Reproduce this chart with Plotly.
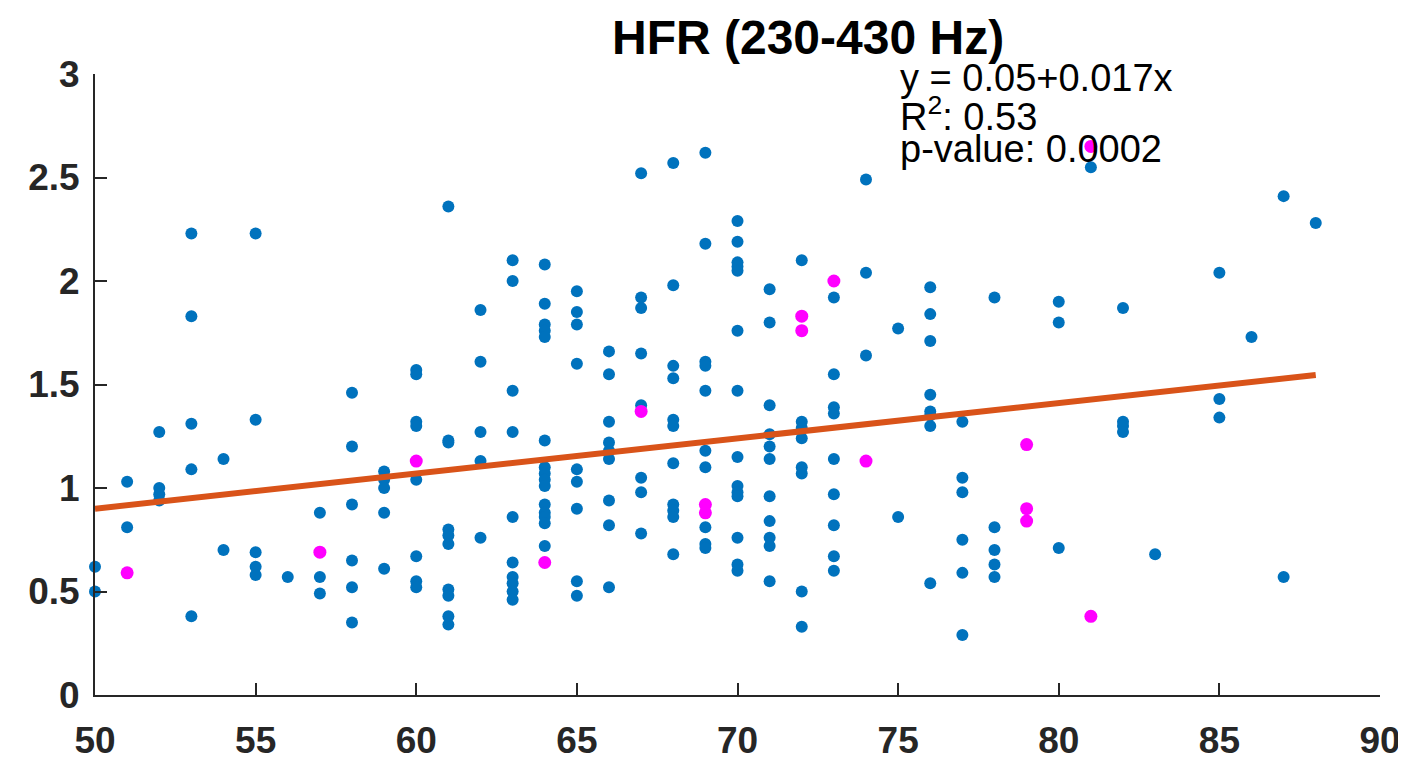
import plotly.graph_objects as go

# ---- data ----
blue_age = (
    [50, 50]
    + [51, 51]
    + [52, 52, 52, 52]
    + [53, 53, 53, 53, 53]
    + [54, 54]
    + [55, 55, 55, 55, 55]
    + [56]
    + [57, 57, 57]
    + [58, 58, 58, 58, 58, 58]
    + [59, 59, 59, 59, 59]
    + [60, 60, 60, 60, 60, 60, 60, 60]
    + [61, 61, 61, 61, 61, 61, 61, 61, 61, 61]
    + [62, 62, 62, 62, 62]
    + [63, 63, 63, 63, 63, 63, 63, 63, 63, 63]
    + [64] * 15
    + [65] * 9
    + [66] * 9
    + [67] * 8
    + [68] * 11
    + [69] * 10
    + [70] * 14
    + [71] * 11
    + [72] * 8
    + [73] * 9
    + [74] * 3
    + [75] * 2
    + [76] * 8
    + [77] * 6
    + [78] * 5
    + [80] * 3
    + [81]
    + [82] * 4
    + [83]
    + [85] * 3
    + [86]
    + [87] * 2
    + [88]
)
blue_hfr = (
    [0.62, 0.50]
    + [1.03, 0.81]
    + [1.27, 1.00, 0.97, 0.94]
    + [2.23, 1.83, 1.31, 1.09, 0.38]
    + [1.14, 0.70]
    + [2.23, 1.33, 0.69, 0.62, 0.58]
    + [0.57]
    + [0.88, 0.57, 0.49]
    + [1.46, 1.20, 0.92, 0.65, 0.52, 0.35]
    + [1.08, 1.04, 1.00, 0.88, 0.61]
    + [1.57, 1.55, 1.32, 1.30, 1.04, 0.67, 0.55, 0.52]
    + [2.36, 1.23, 1.22, 0.80, 0.77, 0.73, 0.51, 0.48, 0.38, 0.34]
    + [1.86, 1.61, 1.27, 1.13, 0.76]
    + [2.10, 2.00, 1.47, 1.27, 0.86, 0.64, 0.57, 0.54, 0.50, 0.46]
    + [2.08, 1.89, 1.79, 1.76, 1.73, 1.23, 1.10, 1.07, 1.04, 1.01, 0.92, 0.88, 0.86, 0.83, 0.72]
    + [1.95, 1.85, 1.79, 1.60, 1.09, 1.03, 0.90, 0.55, 0.48]
    + [1.66, 1.55, 1.32, 1.22, 1.18, 1.14, 0.94, 0.82, 0.52]
    + [2.52, 1.92, 1.87, 1.65, 1.40, 1.05, 0.98, 0.78]
    + [2.57, 1.98, 1.59, 1.53, 1.33, 1.30, 1.12, 0.92, 0.89, 0.86, 0.68]
    + [2.62, 2.18, 1.61, 1.59, 1.47, 1.18, 1.10, 0.81, 0.73, 0.71]
    + [2.29, 2.19, 2.09, 2.07, 2.05, 1.76, 1.47, 1.15, 1.01, 0.98, 0.96, 0.76, 0.63, 0.60]
    + [1.96, 1.80, 1.40, 1.26, 1.20, 1.14, 0.96, 0.84, 0.76, 0.72, 0.55]
    + [2.10, 1.32, 1.29, 1.24, 1.10, 1.07, 0.50, 0.33]
    + [1.92, 1.55, 1.39, 1.36, 1.14, 0.97, 0.82, 0.67, 0.60]
    + [2.49, 2.04, 1.64]
    + [1.77, 0.86]
    + [1.97, 1.84, 1.71, 1.45, 1.37, 1.35, 1.30, 0.54]
    + [1.32, 1.05, 0.98, 0.75, 0.59, 0.29]
    + [1.92, 0.81, 0.70, 0.63, 0.57]
    + [1.90, 1.80, 0.71]
    + [2.55]
    + [1.87, 1.32, 1.30, 1.27]
    + [0.68]
    + [2.04, 1.43, 1.34]
    + [1.73]
    + [2.41, 0.57]
    + [2.28]
)
mag_age = [51, 57, 60, 64, 67, 69, 69, 72, 72, 73, 74, 79, 79, 79, 81, 81]
mag_hfr = [0.59, 0.69, 1.13, 0.64, 1.37, 0.92, 0.88, 1.83, 1.76, 2.00, 1.13, 1.21, 0.90, 0.84, 2.65, 0.38]

fit_x = [50, 88]
fit_y = [0.90, 1.546]

x_ticks = [50, 55, 60, 65, 70, 75, 80, 85, 90]
y_ticks = [0, 0.5, 1, 1.5, 2, 2.5, 3]
y_tick_labels = ["0", "0.5", "1", "1.5", "2", "2.5", "3"]

title_text = "HFR (230-430 Hz)"
stat_lines = ["y = 0.05+0.017x", "R<sup>2</sup>: 0.53", "p-value: 0.0002"]

# ---- figure ----
BLUE = "#0072BD"
MAGENTA = "#FF00FF"
ORANGE = "#D95319"
AXC = "#262626"
FONT = "Liberation Sans, Arial, Helvetica, sans-serif"

fig = go.Figure()
fig.add_trace(go.Scatter(x=blue_age, y=blue_hfr, mode="markers",
                         marker=dict(color=BLUE, size=12, line=dict(width=0)),
                         cliponaxis=False, showlegend=False))
fig.add_trace(go.Scatter(x=mag_age, y=mag_hfr, mode="markers",
                         marker=dict(color=MAGENTA, size=13, line=dict(width=0)),
                         cliponaxis=False, showlegend=False))
fig.add_trace(go.Scatter(x=fit_x, y=fit_y, mode="lines",
                         line=dict(color=ORANGE, width=6),
                         showlegend=False))

axis_common = dict(
    showline=True, linecolor=AXC, linewidth=2,
    ticks="inside", ticklen=12, tickwidth=2, tickcolor=AXC,
    showgrid=False, zeroline=False, automargin=False,
    tickfont=dict(family=FONT, size=37, color=AXC, weight="bold"),
)
fig.update_xaxes(range=[50, 90], tickvals=x_ticks, ticktext=[str(v) for v in x_ticks],
                 ticklabelstandoff=12, **axis_common)
fig.update_yaxes(range=[0, 3], tickvals=y_ticks, ticktext=y_tick_labels,
                 ticklabelstandoff=6, **axis_common)

annotations = [
    dict(text=title_text, xref="paper", yref="paper", x=0.5549, y=1.058,
         xanchor="center", yanchor="middle", showarrow=False,
         font=dict(family=FONT, size=48, color="black", weight="bold")),
]
for txt, yy in zip(stat_lines, [0.994, 0.936, 0.879]):
    annotations.append(dict(text=txt, xref="paper", yref="paper", x=0.6250, y=yy,
                            xanchor="left", yanchor="middle", showarrow=False,
                            font=dict(family=FONT, size=38, color="black")))

# the page body adds an 8px offset, so the figure is sized/margined to compensate
fig.update_layout(
    width=1398, height=752,
    margin=dict(l=87, r=26, t=66, b=65, autoexpand=False),
    paper_bgcolor="white", plot_bgcolor="white",
    annotations=annotations,
)

fig.write_html("out.html")
